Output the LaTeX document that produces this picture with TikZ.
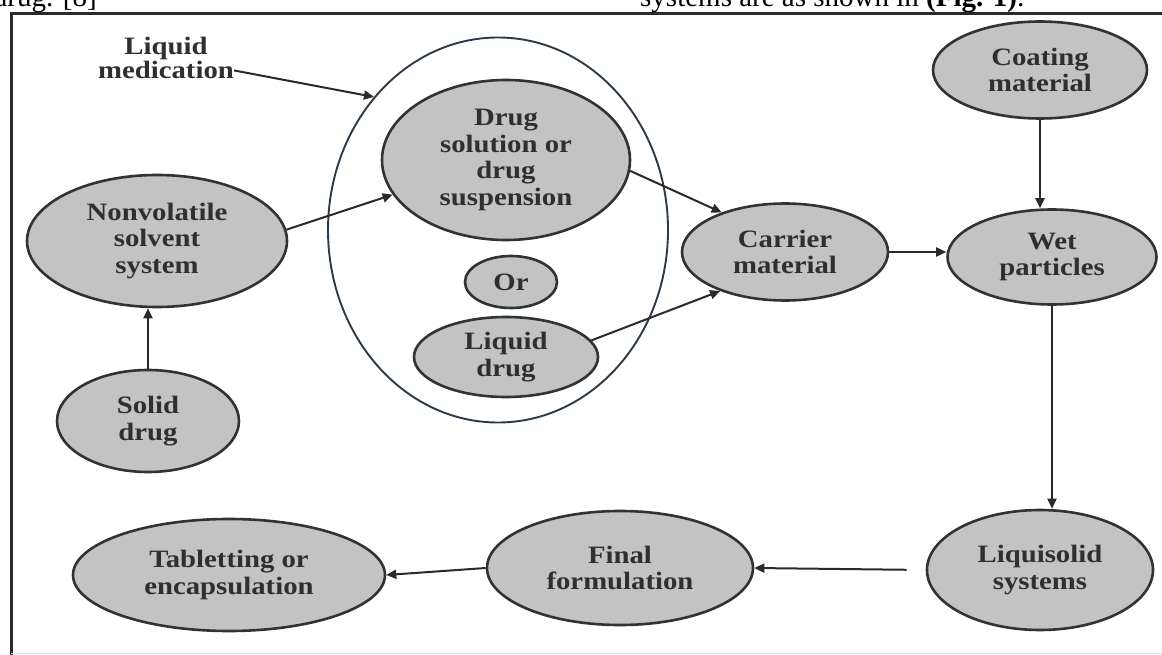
\documentclass[tikz,border=0pt]{standalone}
\usepackage{fontspec}
\setmainfont{Liberation Serif}
\newfontfamily\diafont{Liberation Serif}[FakeStretch=1.15]
\usetikzlibrary{shapes.geometric,arrows.meta}
\definecolor{bubfill}{HTML}{C3C3C3}
\definecolor{bubline}{HTML}{2E3434}
\definecolor{txtc}{HTML}{2F2F2F}
\definecolor{arrc}{HTML}{2A2A2A}
\definecolor{grpc}{HTML}{2C3A46}
\definecolor{framec}{HTML}{2A2A2A}
\tikzset{
  bub/.style={ellipse, draw=bubline, fill=bubfill, line width=2.6pt, inner sep=0pt,
    align=center, text=txtc, font=\fontsize{25}{26.5}\selectfont\diafont\bfseries},
  lbl/.style={inner sep=0pt, text=txtc, font=\fontsize{25}{26.5}\selectfont\diafont\bfseries},
  grpbox/.style={ellipse, draw=grpc, line width=1.9pt, inner sep=0pt},
  arr/.style={draw=arrc, line width=2pt, -{Triangle[length=10pt,width=9pt]}},
  toptext/.style={inner sep=0pt, font=\fontsize{29}{30}\selectfont},
}
\begin{document}
\begin{tikzpicture}[x=1pt,y=-1pt]
\useasboundingbox (0,0) rectangle (1162,655);
\clip (0,0) rectangle (1162,655);
\fill[white] (0,0) rectangle (1162,655);

% partial text of the page above the figure
\node[toptext, anchor=base east] (t1) at (97,7) {drug. [8]};
\node[toptext, anchor=base west] (t2) at (640,7) {systems are as shown in \textbf{(Fig. 1)}.};

% frame
\draw[line width=3pt, draw=framec] (11,660) -- (11,14) -- (1170,14);
\draw[line width=1pt, draw=black!12] (11,653) -- (1162,653);

% group ellipse
\node[grpbox, minimum width=340pt, minimum height=385pt] (grp) at (498,230) {};

% nodes
\node[lbl, anchor=base] (lq) at (166,55) {Liquid};
\node[lbl, anchor=base] (med) at (166,79) {medication};
\node[bub, minimum width=260pt, minimum height=132pt] (nv) at (157,241) {Nonvolatile\\solvent\\system};
\node[bub, minimum width=182pt, minimum height=102pt] (sd) at (148,421) {Solid\\drug};
\node[bub, minimum width=248pt, minimum height=160pt] (ds) at (506,160) {Drug\\solution or\\drug\\suspension};
\node[bub, minimum width=92pt, minimum height=52pt] (or) at (511,282) {Or};
\node[bub, minimum width=184pt, minimum height=80pt] (ld) at (506,357) {Liquid\\drug};
\node[bub, minimum width=206pt, minimum height=97pt] (cm) at (785,252) {Carrier\\material};
\node[bub, minimum width=214pt, minimum height=97pt] (ct) at (1040,70) {Coating\\material};
\node[bub, minimum width=209pt, minimum height=95pt] (wp) at (1052,257) {Wet\\particles};
\node[bub, minimum width=226pt, minimum height=120pt] (ls) at (1040,570) {Liquisolid\\systems};
\node[bub, minimum width=266pt, minimum height=114pt] (fm) at (620,568) {Final\\formulation};
\node[bub, minimum width=312pt, minimum height=112pt] (tb) at (229,575) {Tabletting or\\encapsulation};

% connectors
\draw[arr] (med.east) -- (grp.133);
\draw[arr] (sd.north) -- (sd.north |- nv.south);
\draw[arr] (nv.5) -- (ds.197);
\draw[arr] (ds.-5) -- (cm.148);
\draw[arr] (ld.11) -- (cm.211);
\draw[arr] (cm.east) -- (cm.east -| wp.west);
\draw[arr] (ct.south) -- (ct.south |- wp.north);
\draw[arr] (wp.south) -- (wp.south |- ls.north);
\draw[arr, shorten <=19pt] (ls.west) -- (fm.east);
\draw[arr] (fm.west) -- (tb.east);
\end{tikzpicture}
\end{document}
